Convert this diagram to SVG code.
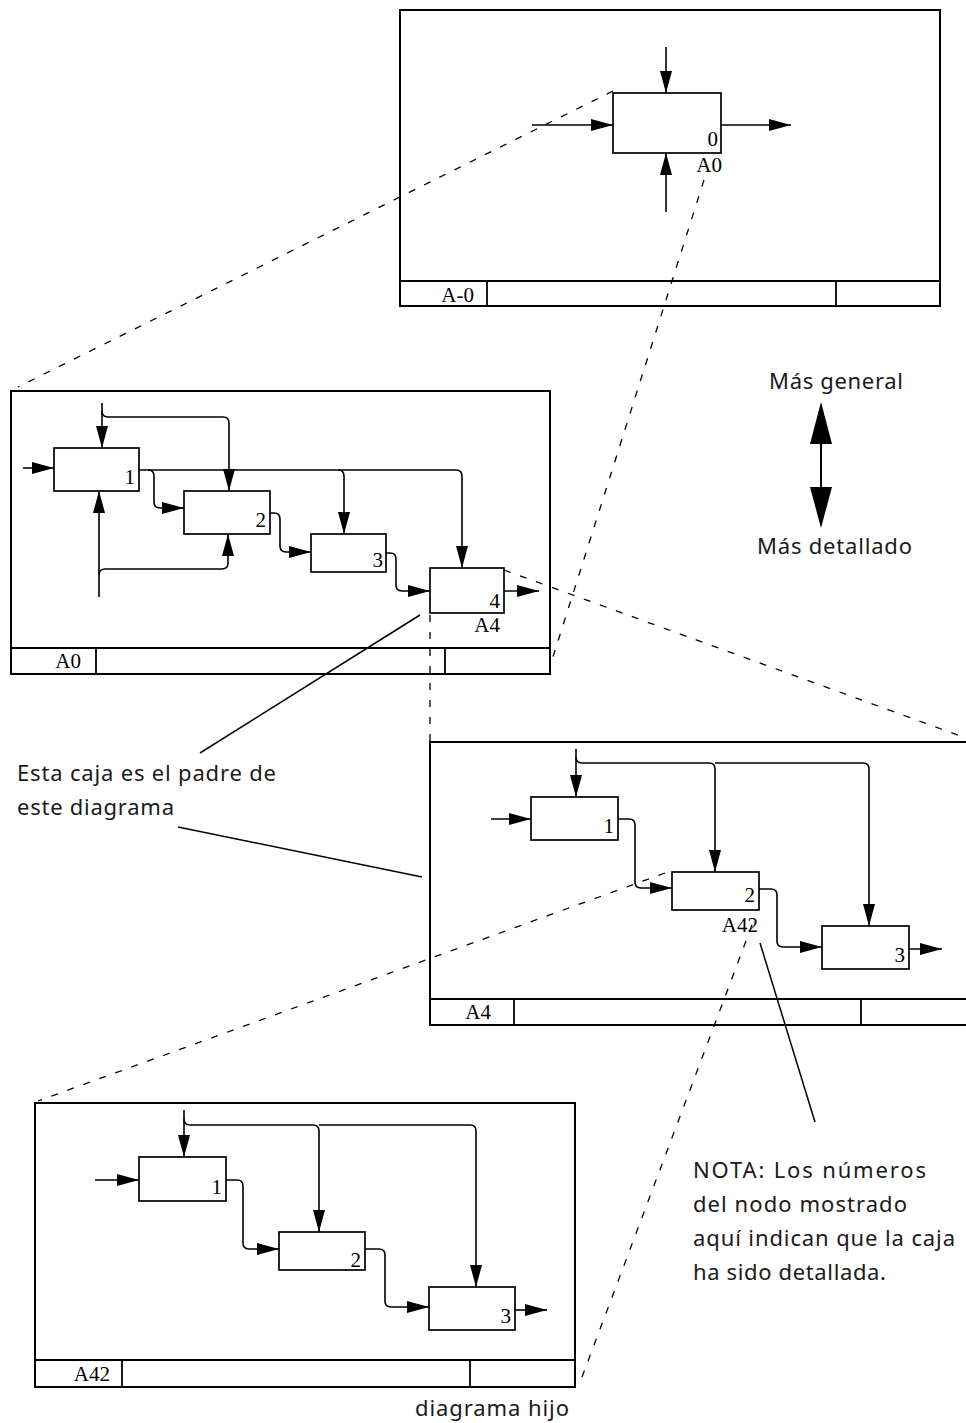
<svg xmlns="http://www.w3.org/2000/svg" width="966" height="1423" viewBox="0 0 966 1423">
<style>
.frame{fill:none;stroke:#000;stroke-width:2}
.tb{fill:none;stroke:#000;stroke-width:1.8}
.box{fill:#fff;stroke:#000;stroke-width:1.7}
.ln{fill:none;stroke:#000;stroke-width:1.5}
.arr{fill:none;stroke:#000;stroke-width:1.6;marker-end:url(#ah)}
.dash{fill:none;stroke:#000;stroke-width:1.3;stroke-dasharray:7 10}
.num{font-family:"Liberation Serif",serif;font-size:21px;fill:#000;text-anchor:end}
.note{font-family:"Noto Sans","Open Sans",sans-serif;font-size:22px;fill:#1a1a1a}
</style>
<defs>
<marker id="ah" markerUnits="userSpaceOnUse" markerWidth="24" markerHeight="14" viewBox="-22 -7 23 14" refX="0" refY="0" orient="auto">
<path d="M-22,-6 L0,0 L-22,6 Z" fill="#000"/>
</marker>
</defs>
<rect width="966" height="1423" fill="#fff"/>

<!-- Frame A-0 -->
<g id="frame-A-0">
<rect class="frame" x="400" y="10" width="540" height="296"/>
<path class="tb" d="M400,281 L940,281 M487,281 L487,306 M836,281 L836,306"/>
<text class="num" x="474" y="302">A-0</text>
</g>
<g id="A-0-box0">
<rect class="box" x="613" y="93" width="108" height="60"/>
<text class="num" x="718" y="146">0</text>
<text class="num" x="722" y="172">A0</text>
</g>

<!-- Frame A0 -->
<g id="frame-A0">
<rect class="frame" x="11" y="391" width="539" height="283"/>
<path class="tb" d="M11,648 L550,648 M96,648 L96,674 M445,648 L445,674"/>
<text class="num" x="81" y="668">A0</text>
</g>
<g id="A0-box1"><rect class="box" x="54" y="448" width="85" height="43"/><text class="num" x="135" y="484">1</text></g>
<g id="A0-box2"><rect class="box" x="184" y="491" width="86" height="43"/><text class="num" x="266" y="527">2</text></g>
<g id="A0-box3"><rect class="box" x="311" y="534" width="75" height="38"/><text class="num" x="383" y="567">3</text></g>
<g id="A0-box4"><rect class="box" x="430" y="568" width="74" height="45"/><text class="num" x="500" y="608">4</text><text class="num" x="500" y="632">A4</text></g>

<!-- Frame A4 -->
<g id="frame-A4">
<rect class="frame" x="430" y="742" width="560" height="283"/>
<path class="tb" d="M430,999 L990,999 M514,999 L514,1025 M861,999 L861,1025"/>
<text class="num" x="491" y="1019">A4</text>
</g>
<g id="A4-box1"><rect class="box" x="531" y="797" width="87" height="43"/><text class="num" x="614" y="833">1</text></g>
<g id="A4-box2"><rect class="box" x="672" y="872" width="87" height="38"/><text class="num" x="755" y="902">2</text><text class="num" x="758" y="932">A42</text></g>
<g id="A4-box3"><rect class="box" x="822" y="926" width="87" height="43"/><text class="num" x="905" y="962">3</text></g>

<!-- Frame A42 -->
<g id="frame-A42">
<rect class="frame" x="35" y="1103" width="540" height="284"/>
<path class="tb" d="M35,1360 L575,1360 M122,1360 L122,1387 M470,1360 L470,1387"/>
<text class="num" x="110" y="1381">A42</text>
</g>
<g id="A42-box1"><rect class="box" x="139" y="1157" width="87" height="44"/><text class="num" x="222" y="1194">1</text></g>
<g id="A42-box2"><rect class="box" x="279" y="1232" width="86" height="38"/><text class="num" x="361" y="1267">2</text></g>
<g id="A42-box3"><rect class="box" x="429" y="1287" width="86" height="43"/><text class="num" x="511" y="1323">3</text></g>

<g id="connectors">
<!-- A-0 -->
<path class="arr" d="M666,47 L666,93"/>
<path class="arr" d="M532,125 L613,125"/>
<path class="arr" d="M721,125 L791,125"/>
<path class="arr" d="M666,212 L666,153"/>
<!-- A0 -->
<path class="arr" d="M23,468 L54,468"/>
<path class="arr" d="M102,403 L102,448"/>
<path class="arr" d="M102,411 Q102,417 108,417 L223,417 Q229,417 229,423 L229,491"/>
<path class="arr" d="M139,470 L456,470 Q462,470 462,476 L462,568"/>
<path class="arr" d="M338,470 Q344,470 344,476 L344,534"/>
<path class="arr" d="M148,470 Q154,470 154,476 L154,502 Q154,508 160,508 L184,508"/>
<path class="arr" d="M270,513 L274,513 Q280,513 280,519 L280,546 Q280,552 286,552 L311,552"/>
<path class="arr" d="M386,553 L390,553 Q396,553 396,559 L396,585 Q396,591 402,591 L430,591"/>
<path class="arr" d="M504,591 L539,591"/>
<path class="arr" d="M99,597 L99,491"/>
<path class="arr" d="M99,575 Q99,569 105,569 L222,569 Q228,569 228,563 L228,534"/>
<!-- A4 -->
<path class="arr" d="M576,749 L576,797"/>
<path class="arr" d="M576,757 Q576,763 582,763 L709,763 Q715,763 715,769 L715,872"/>
<path class="arr" d="M715,763 L863,763 Q869,763 869,769 L869,926"/>
<path class="arr" d="M491,819 L531,819"/>
<path class="arr" d="M618,819 L629,819 Q635,819 635,825 L635,882 Q635,888 641,888 L672,888"/>
<path class="arr" d="M759,889 L771,889 Q777,889 777,895 L777,941 Q777,947 783,947 L822,947"/>
<path class="arr" d="M909,949 L942,949"/>
<!-- A42 -->
<path class="arr" d="M184,1110 L184,1157"/>
<path class="arr" d="M184,1119 Q184,1125 190,1125 L313,1125 Q319,1125 319,1131 L319,1232"/>
<path class="arr" d="M319,1125 L470,1125 Q476,1125 476,1131 L476,1287"/>
<path class="arr" d="M95,1180 L139,1180"/>
<path class="arr" d="M226,1180 L237,1180 Q243,1180 243,1186 L243,1243 Q243,1249 249,1249 L279,1249"/>
<path class="arr" d="M365,1249 L379,1249 Q385,1249 385,1255 L385,1301 Q385,1307 391,1307 L429,1307"/>
<path class="arr" d="M515,1310 L547,1310"/>
<!-- dashed decomposition guides -->
<path class="dash" d="M613,91 L18,387"/>
<path class="dash" d="M704,180 L552,660"/>
<path class="dash" d="M504,570 L966,738"/>
<path class="dash" d="M430,615 L430,742"/>
<path class="dash" d="M665,873 L38,1101"/>
<path class="dash" d="M752,925 L579,1385"/>
<!-- annotation leaders -->
<path class="ln" d="M420,615 L200,753"/>
<path class="ln" d="M178,827 L422,877"/>
<path class="ln" d="M760,943 L815,1122"/>
</g>

<g id="level-arrow">
<path d="M821,443 L821,488" stroke="#000" stroke-width="2"/>
<polygon points="821,402 810,444 832,444" fill="#000"/>
<polygon points="810,487 832,487 821,528" fill="#000"/>
<text class="note" x="769" y="389" textLength="134">Más general</text>
<text class="note" x="757" y="554" textLength="155">Más detallado</text>
</g>

<g id="note-parent">
<text class="note" x="17" y="781" textLength="259">Esta caja es el padre de</text>
<text class="note" x="17" y="815" textLength="157">este diagrama</text>
</g>
<g id="note-nota">
<text class="note" x="693" y="1178" textLength="233">NOTA: Los números</text>
<text class="note" x="693" y="1212" textLength="214">del nodo mostrado</text>
<text class="note" x="693" y="1246" textLength="262">aquí indican que la caja</text>
<text class="note" x="693" y="1280" textLength="193">ha sido detallada.</text>
</g>
<g id="note-child">
<text class="note" x="415" y="1416" textLength="154">diagrama hijo</text>
</g>
</svg>
